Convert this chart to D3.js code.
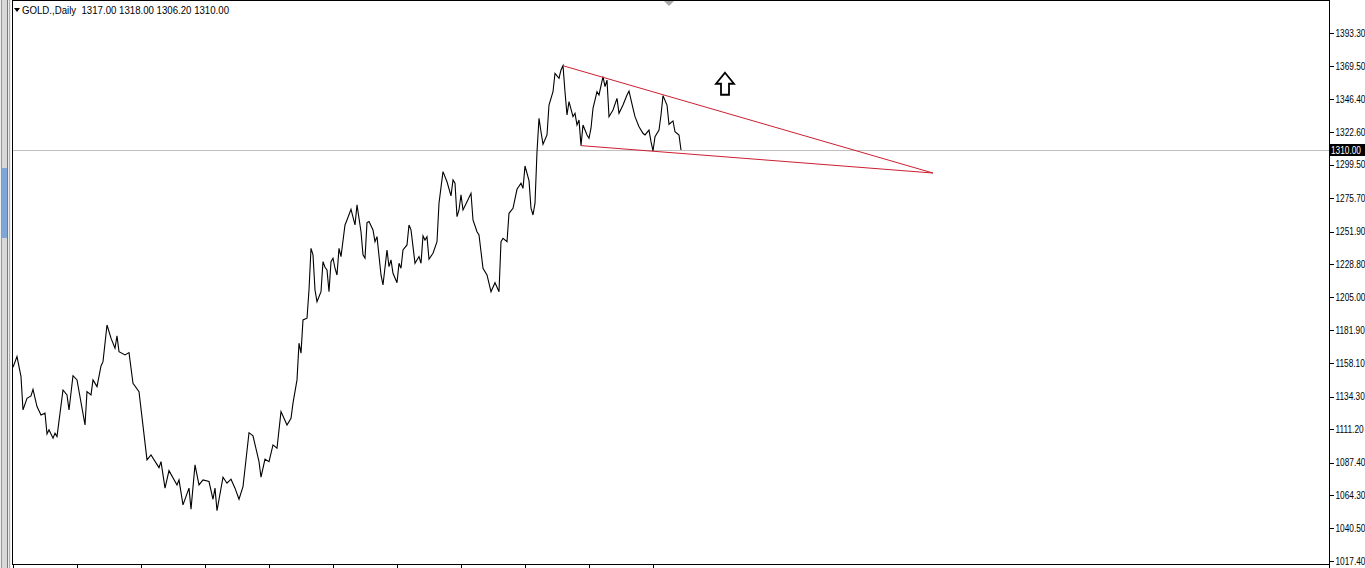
<!DOCTYPE html>
<html><head><meta charset="utf-8">
<script src="https://cdn.jsdelivr.net/npm/d3@7"></script>
<style>html,body{margin:0;padding:0;background:#fff;overflow:hidden}svg{display:block}</style>
</head><body>
<script>
// ---- data ----
const title = "GOLD.,Daily  1317.00 1318.00 1306.20 1310.00";
const barIndex = [0,2,4,5,7,9,10,12,14,16,17,18,20,21,22,25,27,28,30,32,36,37,39,40,42,44,45,47,49,51,52,53,56,58,60,63,67,69,73,74,76,78,82,83,85,88,89,91,93,95,98,100,101,102,105,107,109,111,113,115,118,120,123,124,126,128,130,132,134,137,139,140,142,143,144,145,147,148,149,150,151,152,154,155,156,157,158,159,160,161,162,163,164,166,167,169,171,172,174,175,176,177,178,180,181,182,184,185,187,188,189,190,192,193,194,195,197,198,199,201,203,204,205,206,207,208,210,212,213,215,217,219,220,221,222,223,224,225,227,229,230,232,233,235,237,239,241,243,244,245,247,248,250,252,254,255,256,258,259,260,261,262,263,264,265,267,268,270,271,273,274,275,276,277,278,280,281,282,283,284,285,287,288,289,290,292,293,295,296,297,298,300,302,303,305,307,308,310,311,313,315,316,318,319,320,321,323,324,325,327,328,330,331,333,334];
const closes = [1155.3,1162.9,1148.6,1124.9,1133.2,1134.9,1139.6,1127.3,1121.3,1122.6,1107.8,1110.7,1104.8,1108.3,1105.9,1139.1,1135.6,1124.9,1149.3,1146.3,1114.2,1137.9,1135.6,1146.3,1141.5,1156.2,1159.3,1185.4,1176.0,1168.8,1177.6,1166.4,1164.1,1165.7,1143.9,1137.9,1089.3,1092.9,1083.8,1088.1,1069.2,1081.7,1071.5,1075.1,1057.3,1069.2,1054.2,1085.8,1071.5,1075.1,1073.9,1061.3,1069.2,1053.2,1077.0,1072.7,1075.6,1069.2,1061.3,1070.3,1108.7,1106.4,1088.1,1077.0,1089.8,1088.1,1100.0,1097.6,1123.7,1114.2,1119.0,1129.7,1146.3,1172.4,1165.3,1189.0,1190.2,1210.3,1240.0,1235.3,1210.3,1202.0,1209.1,1230.5,1226.5,1224.6,1209.1,1230.5,1232.9,1225.8,1221.0,1240.0,1234.1,1256.6,1260.2,1267.8,1256.6,1270.9,1251.8,1235.3,1232.9,1258.3,1259.0,1253.1,1244.7,1248.3,1221.0,1213.9,1238.8,1226.9,1231.7,1222.2,1215.5,1229.3,1225.8,1238.8,1242.4,1256.6,1253.1,1229.3,1234.1,1229.3,1248.8,1245.9,1248.3,1232.2,1236.5,1244.7,1272.1,1294.6,1287.4,1277.3,1288.7,1286.3,1262.5,1267.3,1278.0,1267.3,1273.2,1279.2,1260.2,1251.8,1249.5,1225.8,1221.0,1209.1,1215.5,1209.1,1244.7,1247.1,1244.7,1264.9,1268.5,1282.0,1286.3,1282.7,1298.6,1288.2,1268.5,1263.7,1272.1,1308.8,1332.6,1323.0,1314.1,1320.7,1342.0,1351.5,1364.6,1361.1,1367.0,1370.0,1351.5,1334.9,1344.4,1333.7,1336.1,1327.8,1331.4,1313.1,1327.8,1320.7,1318.3,1325.5,1339.7,1351.5,1349.2,1362.2,1355.1,1359.8,1333.7,1338.5,1346.8,1336.1,1342.0,1349.2,1352.0,1339.7,1333.7,1326.6,1321.9,1320.7,1324.2,1315.9,1309.3,1319.5,1324.2,1334.9,1348.7,1342.0,1328.3,1330.7,1323.0,1320.7,1310.0];
const yTickValues = [1393.3,1369.5,1346.4,1322.6,1299.5,1275.7,1251.9,1228.8,1205.0,1181.9,1158.1,1134.3,1111.2,1087.4,1064.3,1040.5,1017.4];
const yTickLabels = ["1393.30","1369.50","1346.40","1322.60","1299.50","1275.70","1251.90","1228.80","1205.00","1181.90","1158.10","1134.30","1111.20","1087.40","1064.30","1040.50","1017.40"];
const xTickBars = [0,32,64,96,128,160,192,224,256,288,320];
const lastPrice = 1310.0;
const lastPriceLabel = "1310.00";
const upperTrendBars = [275, 460];
const upperTrendPrices = [1370.0, 1293.6];
const lowerTrendBars = [284, 460];
const lowerTrendPrices = [1313.1, 1293.6];
const arrowBar = 356;
const arrowPrice = 1365.0;
const markerBar = 328;

(function draw() {
  const W = 1365, H = 568;
  const pLeft = 12, pRight = 1329, pBottom = 564;
  const sx = 0.83; // horizontal squeeze of axis labels (narrow UI font)

  const svg = d3.select("body").append("svg").attr("width", W).attr("height", H)
    .style("font-family", "'Liberation Sans', Arial, sans-serif");

  const x = d3.scaleLinear().domain([0, 658]).range([13, 1329]);
  const y = d3.scaleLinear().domain([1015.2, 1416.8]).range([pBottom, 0]);

  // left window chrome
  svg.append("rect").attr("x", 0).attr("y", 0).attr("width", 11).attr("height", H).attr("fill", "#ececec");
  svg.append("rect").attr("x", 2).attr("y", 0).attr("width", 5).attr("height", H).attr("fill", "#d8d8d8");
  svg.append("line").attr("x1", 1.5).attr("x2", 1.5).attr("y1", 0).attr("y2", H).attr("stroke", "#9a9a9a");
  svg.append("line").attr("x1", 7.5).attr("x2", 7.5).attr("y1", 0).attr("y2", H).attr("stroke", "#7a7a7a");
  svg.append("line").attr("x1", 9.5).attr("x2", 9.5).attr("y1", 0).attr("y2", H).attr("stroke", "#b0b0b0");
  svg.append("rect").attr("x", 2).attr("y", 168).attr("width", 5).attr("height", 70).attr("fill", "#7ea6d6");

  // plot frame
  const frame = svg.append("g").attr("stroke", "#000").attr("stroke-width", 1).attr("shape-rendering", "crispEdges");
  frame.append("line").attr("x1", pLeft + 0.5).attr("x2", pLeft + 0.5).attr("y1", 0).attr("y2", pBottom + 0.5);
  frame.append("line").attr("x1", pRight + 0.5).attr("x2", pRight + 0.5).attr("y1", 0).attr("y2", H);
  frame.append("line").attr("x1", pLeft).attr("x2", pRight + 1).attr("y1", pBottom + 0.5).attr("y2", pBottom + 0.5);
  frame.append("line").attr("x1", pLeft).attr("x2", pRight + 1).attr("y1", 0.5).attr("y2", 0.5);

  // right price axis
  const yAxis = d3.axisRight(y).tickValues(yTickValues).tickSize(4).tickPadding(2)
    .tickFormat((d, i) => yTickLabels[i]);
  const ya = svg.append("g").attr("transform", `translate(${pRight + 0.5},0)`).call(yAxis);
  ya.select(".domain").remove();
  ya.selectAll("line").attr("stroke", "#000").attr("shape-rendering", "crispEdges");
  ya.selectAll("text").attr("fill", "#000").style("font-size", "10px")
    .style("font-family", "'Liberation Sans', Arial, sans-serif")
    .attr("x", 6 / sx).attr("transform", `scale(${sx},1)`);

  // bottom time axis ticks (no labels)
  const xAxis = d3.axisBottom(x).tickValues(xTickBars).tickSize(4).tickFormat("");
  const xa = svg.append("g").attr("transform", `translate(0,${pBottom + 0.5})`).call(xAxis);
  xa.select(".domain").remove();
  xa.selectAll("line").attr("stroke", "#000").attr("shape-rendering", "crispEdges");

  // current price line
  const ly = Math.round(y(lastPrice));
  svg.append("line").attr("x1", pLeft + 1).attr("x2", pRight).attr("y1", ly + 0.5).attr("y2", ly + 0.5)
    .attr("stroke", "#c0c0c0").attr("shape-rendering", "crispEdges");

  // price series
  const pts = barIndex.map((b, i) => [x(b), y(closes[i])]);
  svg.append("path").attr("d", d3.line()(pts)).attr("fill", "none").attr("stroke", "#000").attr("stroke-width", 1.1);

  // trend lines
  const red = "#cc1f30";
  svg.append("line").attr("x1", x(upperTrendBars[0])).attr("y1", y(upperTrendPrices[0]))
    .attr("x2", x(upperTrendBars[1])).attr("y2", y(upperTrendPrices[1])).attr("stroke", red).attr("stroke-width", 1);
  svg.append("line").attr("x1", x(lowerTrendBars[0])).attr("y1", y(lowerTrendPrices[0]))
    .attr("x2", x(lowerTrendBars[1])).attr("y2", y(lowerTrendPrices[1])).attr("stroke", red).attr("stroke-width", 1);

  // last price label
  svg.append("rect").attr("x", pRight + 1).attr("y", ly - 6).attr("width", W - pRight).attr("height", 12).attr("fill", "#000");
  svg.append("g").attr("transform", `translate(${pRight + 2},${ly + 4}) scale(${sx},1)`)
    .append("text").attr("x", 0).attr("y", 0).attr("fill", "#fff").style("font-size", "10px").text(lastPriceLabel);

  // hollow up arrow
  const ax = x(arrowBar), ay = y(arrowPrice);
  const arrowPath = `M${ax},${ay} L${ax + 9},${ay + 11} L${ax + 4},${ay + 11} L${ax + 4},${ay + 22} L${ax - 4},${ay + 22} L${ax - 4},${ay + 11} L${ax - 9},${ay + 11} Z`;
  svg.append("path").attr("d", arrowPath).attr("fill", "#fff").attr("stroke", "#000").attr("stroke-width", 1.8).attr("stroke-linejoin", "miter");

  // top shift marker
  const mx = x(markerBar);
  svg.append("path").attr("d", `M${mx - 5},1 L${mx + 5},1 L${mx},6 Z`).attr("fill", "#a8a8a8");

  // title
  svg.append("path").attr("d", "M14,8 L20,8 L17,12 Z").attr("fill", "#000");
  svg.append("text").attr("x", 22).attr("y", 14).attr("fill", "#000").style("font-size", "10px").style("white-space", "pre")
    .attr("textLength", 207).attr("lengthAdjust", "spacingAndGlyphs").text(title);
})();
</script>
</body></html>
